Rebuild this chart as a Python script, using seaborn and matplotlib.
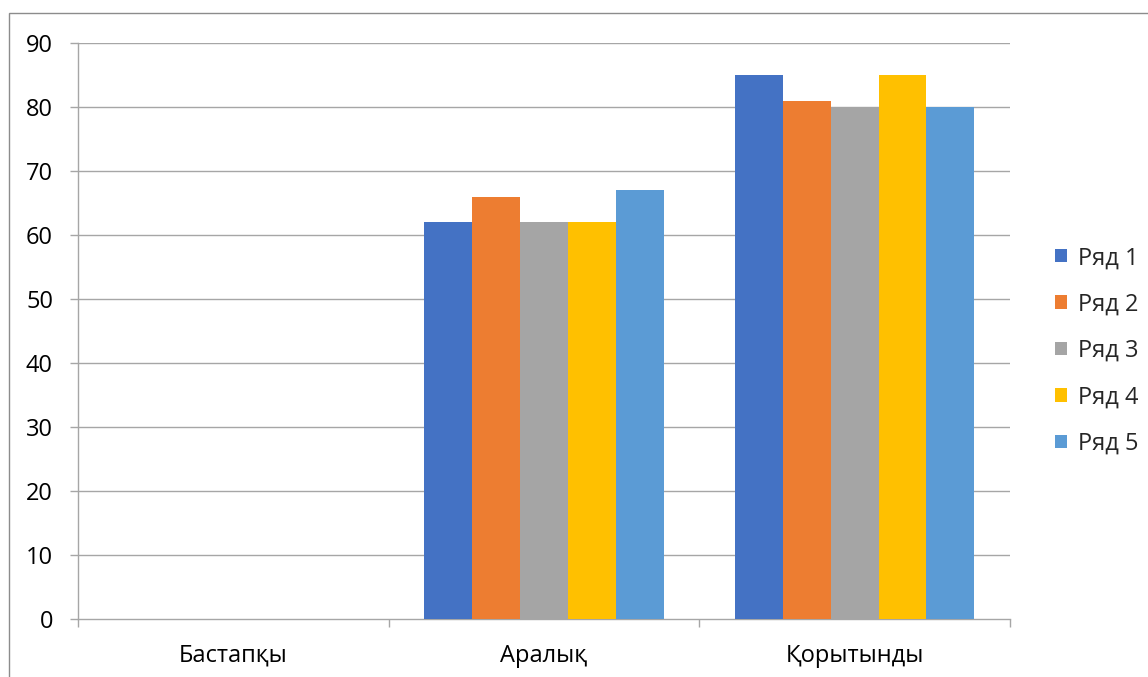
import matplotlib
matplotlib.use("Agg")
import matplotlib.pyplot as plt
import seaborn as sns
import pandas as pd
from matplotlib.patches import Rectangle
from matplotlib.ticker import FixedLocator

categories = ["Бастапқы", "Аралық", "Қорытынды"]
series_names = ["Ряд 1", "Ряд 2", "Ряд 3", "Ряд 4", "Ряд 5"]
ryad1 = [0, 62, 85]
ryad2 = [0, 66, 81]
ryad3 = [0, 62, 80]
ryad4 = [0, 62, 85]
ryad5 = [0, 67, 80]
y_ticks = [0, 10, 20, 30, 40, 50, 60, 70, 80, 90]
colors = ["#4472C4", "#ED7D31", "#A5A5A5", "#FFC000", "#5B9BD5"]

rows = []
for name, vals in zip(series_names, [ryad1, ryad2, ryad3, ryad4, ryad5]):
    for c, v in zip(categories, vals):
        rows.append({"cat": c, "series": name, "value": v})
df = pd.DataFrame(rows)

sns.set_theme(style="white")
plt.rcParams['font.family'] = ['Open Sans', 'Noto Sans', 'DejaVu Sans']

FS = 17
W, H = 1148, 677
fig = plt.figure(figsize=(W / 100, H / 100), dpi=100)
ax = fig.add_axes([78 / W, 1 - 619 / H, (1010 - 78) / W, (619 - 43) / H])

sns.barplot(data=df, x="cat", y="value", hue="series", order=categories,
            hue_order=series_names, palette=colors, width=0.77, gap=0,
            linewidth=0, saturation=1, ax=ax, legend=True, zorder=3)

grid_c = "#A6A6A6"
ax.set_ylim(0, 90)
ax.set_xlim(-0.5, 2.5)
ax.set_yticks(y_ticks)
ax.set_yticklabels([str(t) for t in y_ticks], fontsize=FS)
for y in y_ticks[1:]:
    ax.axhline(y, color=grid_c, lw=1.0, zorder=1)
ax.set_xlabel("")
ax.set_ylabel("")
ax.tick_params(axis="y", length=6, width=1, color=grid_c, pad=12, labelcolor="black", left=True)
ax.tick_params(axis="x", which="major", length=0, pad=18, labelsize=FS, labelcolor="black")
ax.xaxis.set_minor_locator(FixedLocator([-0.5, 0.5, 1.5, 2.5]))
ax.tick_params(axis="x", which="minor", length=6, width=1, color=grid_c, bottom=True)
for s in ["top", "right"]:
    ax.spines[s].set_visible(False)
for s in ["left", "bottom"]:
    ax.spines[s].set_color(grid_c)
    ax.spines[s].set_linewidth(1.0)

leg = ax.legend(loc="center left", bbox_to_anchor=(1046 / W, 1 - 351 / H),
                bbox_transform=fig.transFigure, frameon=False, fontsize=FS,
                handlelength=0.5, handleheight=0.5, handletextpad=0.45,
                labelspacing=0.95, borderaxespad=0)

fig.patches.append(Rectangle((9 / W, -0.1), 1.2, 1 - 13 / H + 0.1,
                             transform=fig.transFigure, fill=False,
                             edgecolor="#8C8C8C", lw=1.0))

fig.savefig("out.png", dpi=100)
